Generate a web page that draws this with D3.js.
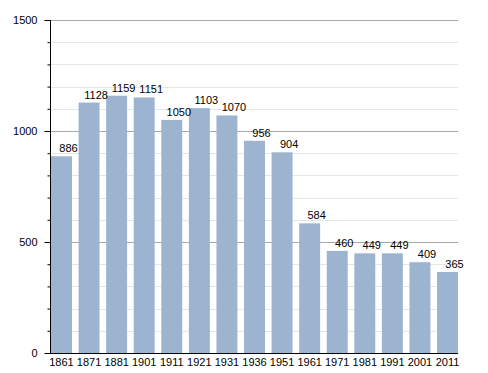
<!DOCTYPE html>
<html><head><meta charset="utf-8">
<script src="https://cdn.jsdelivr.net/npm/d3@7"></script>
<style>body{margin:0;background:#fff}svg{display:block}text{font-family:"Liberation Sans",Arial,sans-serif;font-size:11px;fill:#000}</style>
</head><body>
<script>
const years = ["1861","1871","1881","1901","1911","1921","1931","1936","1951","1961","1971","1981","1991","2001","2011"];
const population = [886,1128,1159,1151,1050,1103,1070,956,904,584,460,449,449,409,365];
const majorTicks = [0,500,1000,1500];
const minorTicks = d3.range(0,1501,100);

const W=488,H=373;
const svg=d3.select("body").append("svg").attr("width",W).attr("height",H);
const x=d3.scaleBand().domain(years).range([51,458]).paddingInner(0.24).paddingOuter(0);
const y=d3.scaleLinear().domain([0,1500]).range([353,20]);
const left=50,right=458;

svg.append("g").selectAll("line").data(minorTicks.filter(d=>d%500!==0)).join("line")
 .attr("x1",left).attr("x2",right).attr("y1",d=>Math.round(y(d))+0.5).attr("y2",d=>Math.round(y(d))+0.5)
 .attr("stroke","#e6e6e6");
svg.append("g").selectAll("line").data(majorTicks.filter(d=>d>0)).join("line")
 .attr("x1",left).attr("x2",right).attr("y1",d=>Math.round(y(d))+0.5).attr("y2",d=>Math.round(y(d))+0.5)
 .attr("stroke","#a8a8a8");

svg.append("g").selectAll("rect").data(population).join("rect")
 .attr("x",(d,i)=>x(years[i])).attr("width",x.bandwidth())
 .attr("y",d=>y(d)).attr("height",d=>y(0)-y(d)).attr("fill","#9cb4d0");

svg.append("g").selectAll("text").data(population).join("text")
 .attr("x",(d,i)=>x(years[i])+x.bandwidth()/2+7).attr("y",d=>y(d)-4)
 .attr("text-anchor","middle").text(d=>d);

const ya=svg.append("g").attr("transform",`translate(${left+0.5},0)`)
 .call(d3.axisLeft(y).tickValues(minorTicks).tickSize(3).tickFormat(""));
ya.select(".domain").remove();
const yM=svg.append("g").attr("transform",`translate(${left+0.5},0)`)
 .call(d3.axisLeft(y).tickValues(majorTicks).tickSize(6).tickPadding(7).tickFormat(d3.format("d")));
yM.select(".domain").remove();
yM.selectAll("text").style("font-family","Liberation Sans, Arial, sans-serif").style("font-size","11px").attr("fill","#000");
svg.append("line").attr("x1",left+0.5).attr("x2",left+0.5).attr("y1",y(1500)).attr("y2",y(0)).attr("stroke","#000");

const xa=svg.append("g").attr("transform",`translate(0,${Math.round(y(0))+0.5})`)
 .call(d3.axisBottom(x).tickSize(0).tickPadding(5));
xa.select(".domain").remove();
xa.selectAll("text").style("font-family","Liberation Sans, Arial, sans-serif").style("font-size","11px").attr("fill","#000");
svg.append("line").attr("x1",left).attr("x2",right).attr("y1",Math.round(y(0))+0.5).attr("y2",Math.round(y(0))+0.5).attr("stroke","#000");
</script>
</body></html>
